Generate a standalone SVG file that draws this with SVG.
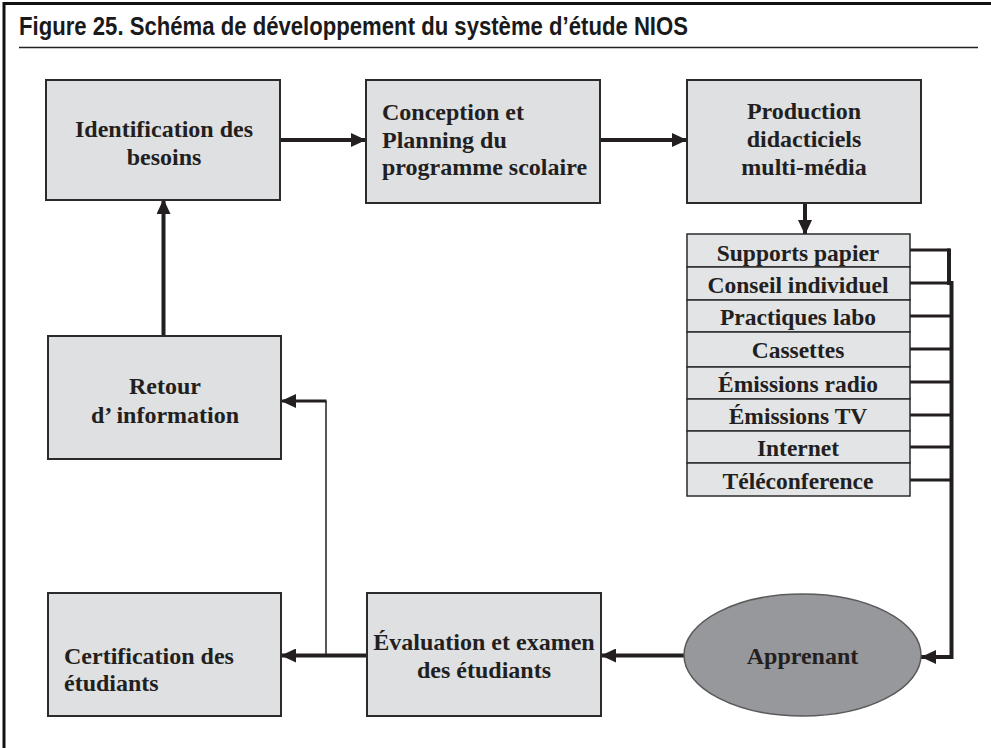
<svg xmlns="http://www.w3.org/2000/svg" width="991" height="748" viewBox="0 0 991 748">
<defs>
<marker id="ah" markerUnits="userSpaceOnUse" markerWidth="15" markerHeight="14" refX="15" refY="7" orient="auto">
<path d="M0,0 L15,7 L0,14 z" fill="#231f20"/>
</marker>
<style>
.box{fill:#dfe0e2;stroke:#2b2b2b;stroke-width:2}
.row{fill:#e3e4e6;stroke:#2b2b2b;stroke-width:1.5}
.t{font-family:"Liberation Serif","Times New Roman",serif;font-weight:bold;font-size:24px;fill:#231f20}
.c{text-anchor:middle}
.l{font-family:"Liberation Serif","Times New Roman",serif;font-weight:bold;font-size:23.5px;fill:#231f20;text-anchor:middle}
.k{fill:none;stroke:#231f20;stroke-width:4}
.k3{fill:none;stroke:#231f20;stroke-width:3}
.thin{fill:none;stroke:#231f20;stroke-width:1.5}
</style>
</defs>
<rect width="991" height="748" fill="#ffffff"/>
<g id="frame">
<path d="M4,748 V3.5 H991" fill="none" stroke="#111" stroke-width="3"/>
<line x1="19" y1="47.5" x2="978" y2="47.5" stroke="#222" stroke-width="1.5"/>
<text x="19" y="35" font-family="'Liberation Sans',Arial,sans-serif" font-weight="bold" font-size="25" fill="#1a1a1a" textLength="669" lengthAdjust="spacingAndGlyphs">Figure 25.  Schéma de développement du système d’étude NIOS</text>
</g>
<g id="connectors">
<line class="k" x1="280" y1="140" x2="366" y2="140" marker-end="url(#ah)"/>
<line class="k" x1="600" y1="140" x2="687" y2="140" marker-end="url(#ah)"/>
<line class="k" x1="805" y1="203" x2="805" y2="235" marker-end="url(#ah)"/>
<g class="k3">
<line x1="910" y1="250" x2="950" y2="250"/>
<line x1="910" y1="283" x2="952" y2="283"/>
<line x1="910" y1="316" x2="952" y2="316"/>
<line x1="910" y1="349" x2="952" y2="349"/>
<line x1="910" y1="382" x2="952" y2="382"/>
<line x1="910" y1="415" x2="952" y2="415"/>
<line x1="910" y1="447" x2="952" y2="447"/>
<line x1="910" y1="480" x2="952" y2="480"/>
</g>
<line class="k" x1="949" y1="248.5" x2="949" y2="285"/>
<polyline class="k" points="951.5,281 951.5,657 921,657" marker-end="url(#ah)"/>
<line class="k" x1="684" y1="655.5" x2="601" y2="655.5" marker-end="url(#ah)"/>
<line class="k" x1="367" y1="655.5" x2="281" y2="655.5" marker-end="url(#ah)"/>
<polyline class="thin" points="326,655.5 326,401"/>
<line class="k3" x1="326.5" y1="401" x2="281" y2="401" marker-end="url(#ah)"/>
<line class="k" x1="163.5" y1="336" x2="163.5" y2="199" marker-end="url(#ah)"/>
</g>
<g id="identification">
<rect class="box" x="46" y="80" width="234" height="120"/>
<text class="t c" x="164" y="137">Identification des</text>
<text class="t c" x="164" y="165">besoins</text>
</g>
<g id="conception">
<rect class="box" x="366" y="80" width="234" height="123"/>
<text class="t" x="382" y="120">Conception et</text>
<text class="t" x="382" y="147.5">Planning du</text>
<text class="t" x="382" y="174.5">programme scolaire</text>
</g>
<g id="production">
<rect class="box" x="687" y="80" width="234" height="123"/>
<text class="t c" x="804" y="119">Production</text>
<text class="t c" x="804" y="147">didacticiels</text>
<text class="t c" x="804" y="175">multi-média</text>
</g>
<g id="supports">
<rect class="row" x="687" y="234" width="223" height="33"/>
<rect class="row" x="687" y="267" width="223" height="33"/>
<rect class="row" x="687" y="300" width="223" height="32"/>
<rect class="row" x="687" y="332" width="223" height="35"/>
<rect class="row" x="687" y="367" width="223" height="32"/>
<rect class="row" x="687" y="399" width="223" height="32"/>
<rect class="row" x="687" y="431" width="223" height="32"/>
<rect class="row" x="687" y="463" width="223" height="33"/>
<text class="l" x="798" y="260.5">Supports papier</text>
<text class="l" x="798" y="292.5">Conseil individuel</text>
<text class="l" x="798" y="325">Practiques labo</text>
<text class="l" x="798" y="358">Cassettes</text>
<text class="l" x="798" y="391.5">Émissions radio</text>
<text class="l" x="798" y="424">Émissions TV</text>
<text class="l" x="798" y="456">Internet</text>
<text class="l" x="798" y="488.5">Téléconference</text>
</g>
<g id="retour">
<rect class="box" x="48" y="336" width="233" height="123"/>
<text class="t c" x="165" y="394">Retour</text>
<text class="t c" x="165" y="422.5">d’ information</text>
</g>
<g id="certification">
<rect class="box" x="48" y="593" width="233" height="123"/>
<text class="t" x="64" y="664">Certification des</text>
<text class="t" x="64" y="691">étudiants</text>
</g>
<g id="evaluation">
<rect class="box" x="367" y="593" width="234" height="123"/>
<text class="t c" x="484" y="650">Évaluation et examen</text>
<text class="t c" x="484" y="678">des étudiants</text>
</g>
<g id="apprenant">
<ellipse cx="802.5" cy="655" rx="118.5" ry="61" fill="#97989b" stroke="#5a5a5c" stroke-width="1.5"/>
<text class="t c" x="802.5" y="663.5" font-size="27">Apprenant</text>
</g>
</svg>
